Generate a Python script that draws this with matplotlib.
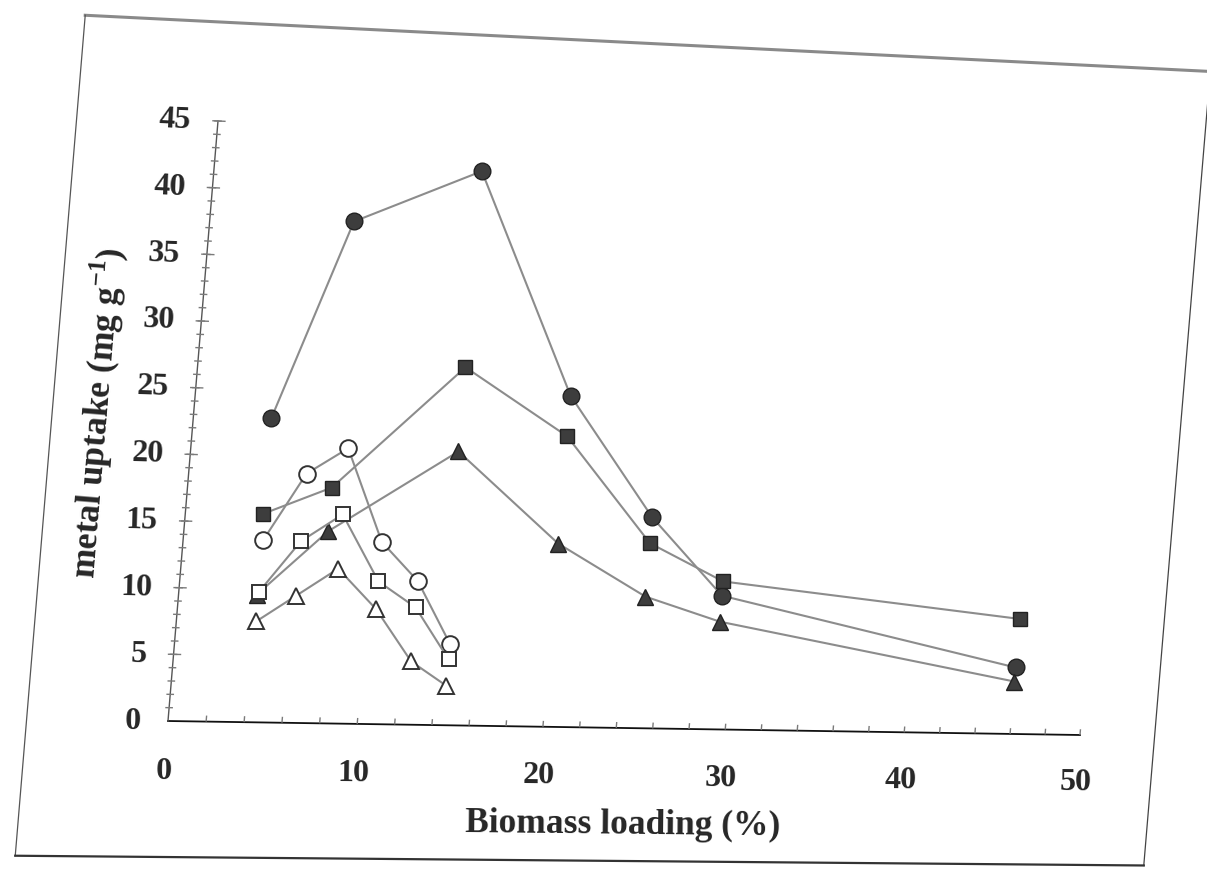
import numpy as np
import matplotlib
matplotlib.use('Agg')
import matplotlib.pyplot as plt
import matplotlib.transforms as mtransforms
from matplotlib.collections import LineCollection

# biomass loading (%) for the three long runs and the three short runs
load_long = [4.1, 7.6, 14.2, 20.0, 25.0, 29.2, 46.0]
load_short = [4.2, 6.2, 8.3, 10.5, 12.6, 14.6]

# metal uptake (mg/g)
uptake_circle_fill = [22.9, 37.9, 42.1, 25.3, 16.2, 10.3, 5.2]
uptake_square_fill = [15.7, 17.8, 27.2, 22.2, 14.2, 11.4, 9.0]
uptake_tri_fill = [9.6, 14.5, 20.8, 14.0, 10.1, 8.3, 4.1]
uptake_circle_open = [13.7, 18.8, 20.8, 13.8, 10.9, 6.2]
uptake_square_open = [9.8, 13.7, 15.8, 10.8, 8.9, 5.0]
uptake_tri_open = [7.6, 9.6, 11.7, 8.7, 4.8, 3.0]

x_ticks = [0, 10, 20, 30, 40, 50]
y_ticks = [0, 5, 10, 15, 20, 25, 30, 35, 40, 45]

W, H = 1207, 878
INK = '#262626'
LINE = '#8c8c8c'


class PageWarp(mtransforms.Transform):
    """Projective map from chart units to page pixels (scanned page sits skewed)."""
    input_dims = 2
    output_dims = 2
    has_inverse = True

    def __init__(self, m):
        super().__init__()
        self.m = np.asarray(m, float)

    def transform_non_affine(self, values):
        xy = np.asarray(values, float).reshape(-1, 2)
        p = np.column_stack([xy, np.ones(len(xy))]) @ self.m.T
        return p[:, :2] / p[:, 2:3]

    def inverted(self):
        return PageWarp(np.linalg.inv(self.m))


def fit_warp(src, dst):
    rows, rhs = [], []
    for (x, y), (u, v) in zip(src, dst):
        rows.append([x, y, 1, 0, 0, 0, -u * x, -u * y])
        rhs.append(u)
        rows.append([0, 0, 0, x, y, 1, -v * x, -v * y])
        rhs.append(v)
    h = np.linalg.solve(np.array(rows, float), np.array(rhs, float))
    return np.append(h, 1).reshape(3, 3)


plt.rcParams['font.family'] = ['Liberation Serif', 'DejaVu Serif']
plt.rcParams['mathtext.fontset'] = 'custom'
plt.rcParams['mathtext.rm'] = 'Liberation Serif'
plt.rcParams['mathtext.bf'] = 'Liberation Serif:bold'

fig = plt.figure(figsize=(W / 100, H / 100), dpi=100)
fig.patch.set_facecolor('white')
ax = fig.add_axes([0, 0, 1, 1])
ax.set_xlim(0, W)
ax.set_ylim(H, 0)
ax.axis('off')

# plot-area corners (0,0) (50,0) (50,45) (0,45) on the page
m = fit_warp([(0, 0), (50, 0), (50, 45), (0, 45)],
             [(168, 722), (1080, 736), (1128, 163), (218, 122)])
warp = PageWarp(m) + ax.transData

# page frame around the figure
fx0, fx1, fy0, fy1 = -7.35, 54.3, -10.2, 52.4
ax.plot([fx0, fx1], [fy1, fy1], transform=warp, color='#8a8a8a', lw=2.2)
ax.plot([fx0, fx0], [fy0, fy1], transform=warp, color='#555555', lw=0.9)
ax.plot([fx1, fx1], [fy0, fy1], transform=warp, color='#444444', lw=0.9)
ax.plot([fx0, fx1], [fy0, fy0], transform=warp, color='#333333', lw=1.6)

# axes and ticks
ax.plot([0, 50], [0, 0], transform=warp, color='#111111', lw=1.3)
ax.plot([0, 0], [0, 45], transform=warp, color='#555555', lw=1.0)
xt = [[(x, 0), (x, 0.45)] for x in range(2, 51, 2)]
yt = [[(-0.2, y), (0.2, y)] for y in range(1, 46)]
yt += [[(-0.3, y), (0.4, y)] for y in y_ticks[1:]]
ax.add_collection(LineCollection(xt + yt, colors='#7a7a7a', linewidths=1.0,
                                 transform=warp), autolim=False)

for v in x_ticks:
    ax.text(v, -3.7, str(v), transform=warp, transform_rotates_text=True,
            rotation_mode='anchor', ha='center', va='center',
            fontsize=23, fontweight='bold', color=INK)
for v in y_ticks:
    ax.text(-1.4, v, str(v), transform=warp, transform_rotates_text=True,
            rotation_mode='anchor', ha='right', va='center',
            fontsize=23, fontweight='bold', color=INK)

ax.text(24.8, -7.4, 'Biomass loading (%)', transform=warp,
        transform_rotates_text=True, rotation_mode='anchor',
        ha='center', va='center', fontsize=25.5, fontweight='bold', color=INK)
ax.text(-5.0, 23.0, r'metal uptake (mg g$^{\mathbf{-1}}$)', transform=warp,
        transform_rotates_text=True, rotation=90, rotation_mode='anchor',
        ha='center', va='center', fontsize=25.5, fontweight='bold', color=INK)

# series: filled markers first, open ones on top
fill = dict(color=LINE, lw=1.5, mfc='#3d3d3d', mec='#222222', mew=1.0)
ax.plot(load_long, uptake_circle_fill, marker='o', ms=12, transform=warp, **fill)
ax.plot(load_long, uptake_square_fill, marker='s', ms=10, transform=warp, **fill)
ax.plot(load_long, uptake_tri_fill, marker='^', ms=11.5, transform=warp, **fill)

hollow = dict(color=LINE, lw=1.5, mfc='white', mec='#333333', mew=1.4)
ax.plot(load_short, uptake_circle_open, marker='o', ms=12, transform=warp, **hollow)
ax.plot(load_short, uptake_square_open, marker='s', ms=10.5, transform=warp, **hollow)
ax.plot(load_short, uptake_tri_open, marker='^', ms=12, transform=warp, **hollow)

fig.savefig('out.png', dpi=100, facecolor='white')
